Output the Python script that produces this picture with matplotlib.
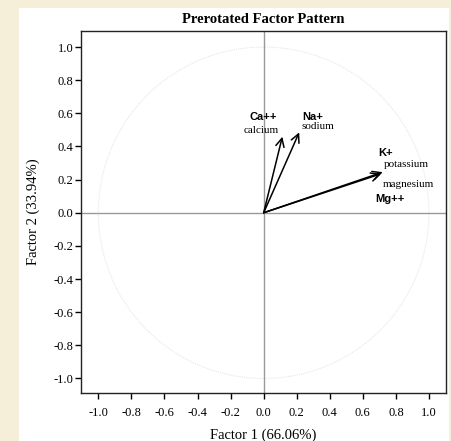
import numpy as np
import matplotlib
matplotlib.use("Agg")
import matplotlib.pyplot as plt
from matplotlib.patches import Rectangle, Circle

variables = ["Ca++", "Na+", "K+", "Mg++"]
names = ["calcium", "sodium", "potassium", "magnesium"]
factor1 = [0.113, 0.215, 0.72, 0.71]
factor2 = [0.459, 0.485, 0.245, 0.235]
ticks = [-1.0, -0.8, -0.6, -0.4, -0.2, 0.0, 0.2, 0.4, 0.6, 0.8, 1.0]
tick_labels = ["%.1f" % t for t in ticks]

# label positions in data units
var_label_pos = [(-0.004, 0.579), (0.298, 0.579), (0.740, 0.36), (0.765, 0.082)]
name_label_pos = [(-0.013, 0.499), (0.325, 0.519), (0.861, 0.292), (0.873, 0.170)]

W, H = 452, 441
fig = plt.figure(figsize=(W / 100, H / 100), dpi=100)
fig.patch.set_facecolor("#F5EFDA")

bg = fig.add_axes([19 / W, 0, (449 - 19) / W, (H - 8) / H], zorder=-5)
bg.set_facecolor("white")
bg.set_axis_off()
bg.add_patch(Rectangle((0, 0), 1, 1, transform=bg.transAxes, facecolor="white",
                       edgecolor="none"))

ax = fig.add_axes([81 / W, 48 / H, (446 - 81) / W, (393 - 31) / H], zorder=1)
ax.set_xlim(-1.105, 1.103)
ax.set_ylim(-1.088, 1.097)

serif = "Liberation Serif"
sans = "Liberation Sans"

ax.add_patch(Circle((0, 0), 1.0, fill=False, edgecolor="#E6E6E6", lw=0.8,
                    linestyle=(0, (1, 1))))
ax.axhline(0, color="#999999", lw=1.0, zorder=1)
ax.axvline(0, color="#999999", lw=1.0, zorder=1)

for x, y in zip(factor1, factor2):
    ax.annotate("", xy=(x, y), xytext=(0, 0),
                arrowprops=dict(arrowstyle="->,head_length=0.6,head_width=0.3",
                                color="black", lw=1.1, shrinkA=0, shrinkB=0))

for v, (lx, ly) in zip(variables, var_label_pos):
    ax.text(lx, ly, v, fontfamily=sans, fontweight="bold", fontsize=8,
            ha="center", va="center")
for n, (lx, ly) in zip(names, name_label_pos):
    ax.text(lx, ly, n, fontfamily=serif, fontsize=8, ha="center", va="center")

ax.set_xticks(ticks)
ax.set_xticklabels(tick_labels, fontfamily=serif, fontsize=9)
ax.set_yticks(ticks)
ax.set_yticklabels(tick_labels, fontfamily=serif, fontsize=9)
ax.tick_params(direction="out", length=4, width=1)
ax.tick_params(axis="x", pad=6)
ax.tick_params(axis="y", pad=1.5)
for s in ax.spines.values():
    s.set_linewidth(1.0)
    s.set_edgecolor("#222222")

ax.set_xlabel("Factor 1 (66.06%)", fontfamily=serif, fontsize=10.5, labelpad=7)
ax.set_ylabel("Factor 2 (33.94%)", fontfamily=serif, fontsize=10.5, labelpad=10)
ax.set_title("Prerotated Factor Pattern", fontfamily=serif, fontweight="bold",
             fontsize=10.5, pad=6)

fig.savefig("out.png", dpi=100, facecolor=fig.get_facecolor())
